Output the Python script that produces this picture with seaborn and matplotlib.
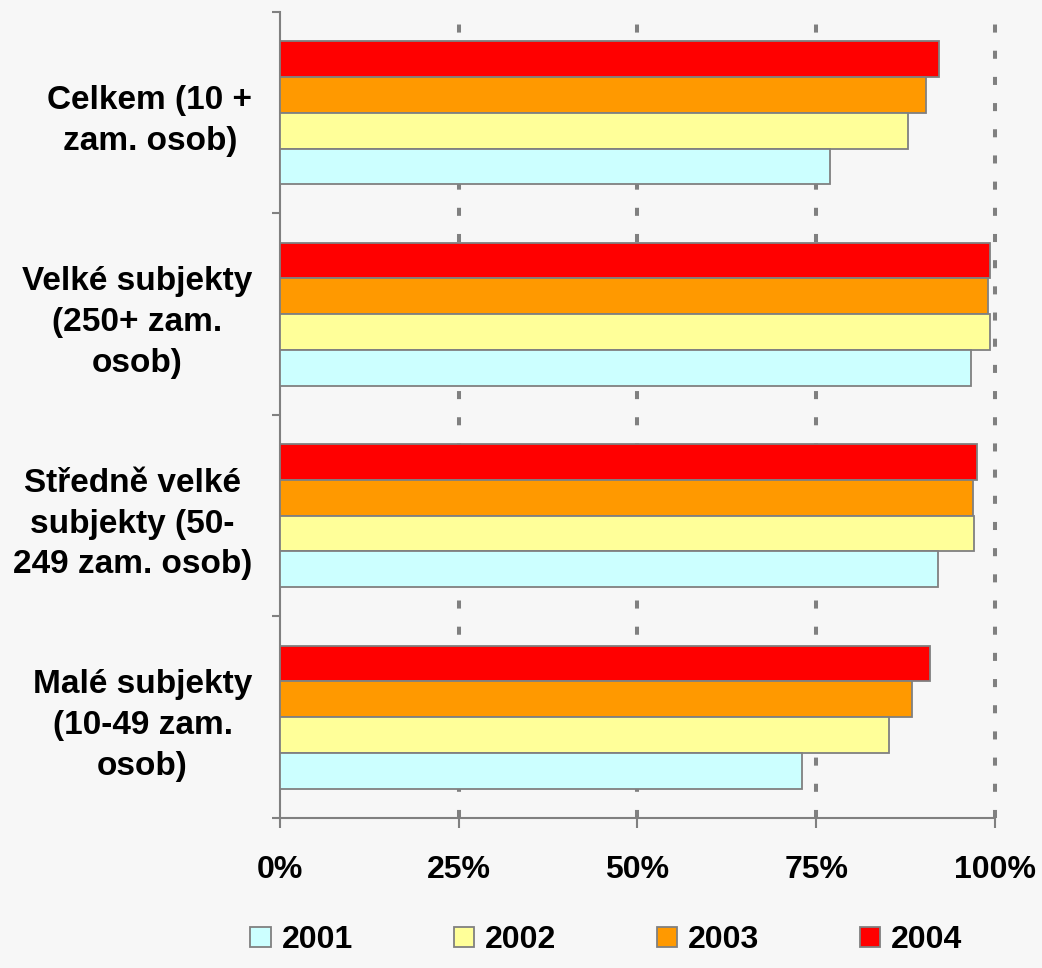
import pandas as pd
import matplotlib
matplotlib.use("Agg")
import matplotlib.pyplot as plt
from matplotlib.patches import Patch
from matplotlib.ticker import FixedLocator
import seaborn as sns

# data (share of firms, %)
categories = [
    "Celkem (10 +\nzam. osob)",
    "Velké subjekty\n(250+ zam.\nosob)",
    "Středně velké\nsubjekty (50-\n249 zam. osob)",
    "Malé subjekty\n(10-49 zam.\nosob)",
]
years = ["2001", "2002", "2003", "2004"]
v2001 = [76.9, 96.6, 92.0, 73.0]
v2002 = [87.8, 99.3, 97.1, 85.2]
v2003 = [90.3, 99.0, 96.9, 88.4]
v2004 = [92.2, 99.3, 97.5, 90.9]
x_ticks = [0, 25, 50, 75, 100]
x_labels = ["0%", "25%", "50%", "75%", "100%"]

colors = {"2001": "#CCFFFF", "2002": "#FFFF99", "2003": "#FF9900", "2004": "#FF0000"}
edge = "#808080"


def build_frame():
    rows = []
    for year, vals in zip(years, [v2001, v2002, v2003, v2004]):
        for cat, v in zip(categories, vals):
            rows.append({"category": cat, "year": year, "value": v})
    return pd.DataFrame(rows)


df = build_frame()

sns.set_style("white")
plt.rcParams["font.family"] = ["Liberation Sans", "DejaVu Sans"]
plt.rcParams["text.color"] = "black"
plt.rcParams["xtick.labelcolor"] = "black"
plt.rcParams["ytick.labelcolor"] = "black"

fig = plt.figure(figsize=(10.42, 9.68), dpi=100, facecolor="#F7F7F7")

ax = fig.add_axes([0.2687, 0.155, 0.6862, 0.8326])
ax.patch.set_alpha(0)

sns.barplot(data=df, x="value", y="category", hue="year",
            hue_order=years[::-1], order=categories, palette=colors,
            orient="h", width=0.71, saturation=1, edgecolor=edge,
            linewidth=1.3, legend=False, ax=ax, zorder=3)

ax.set_xlim(0, 100)
ax.set_ylim(3.5, -0.5)
ax.set_xlabel("")
ax.set_ylabel("")

ax.set_xticks(x_ticks)
ax.set_xticklabels(x_labels, fontsize=23, fontweight="bold", color="black")
ax.tick_params(axis="x", bottom=True, direction="out", length=7, width=1.5,
               color=edge, pad=20)

ax.set_yticks(range(len(categories)))
ax.set_yticklabels(categories, fontsize=24, fontweight="bold", color="black",
                   multialignment="center", linespacing=1.4)
ax.tick_params(axis="y", which="major", left=True, length=0, pad=20)
ax.yaxis.set_minor_locator(FixedLocator([-0.5, 0.5, 1.5, 2.5, 3.5]))
ax.tick_params(axis="y", which="minor", left=True, direction="out", length=6,
               width=1.5, color=edge)

for side in ["top", "right"]:
    ax.spines[side].set_visible(False)
for side in ["left", "bottom"]:
    ax.spines[side].set_color(edge)
    ax.spines[side].set_linewidth(1.5)

ax.set_axisbelow(True)
ax.xaxis.grid(True, color=edge, linewidth=2.9, linestyle=(0, (2, 4.5)))
ax.yaxis.grid(False)
gridlines = ax.get_xgridlines()
for gl in gridlines:
    gl.set_clip_on(False)
gridlines[0].set_visible(False)  # the 0% line sits under the axis

handles = [Patch(facecolor=colors[y], edgecolor=edge, linewidth=1.3) for y in years]
fig.legend(handles, years, loc="center", bbox_to_anchor=(0.582, 0.029), ncol=4,
           frameon=False, prop={"size": 23, "weight": "bold"},
           handlelength=0.63, handleheight=0.6, handletextpad=0.35,
           columnspacing=3.15)

fig.savefig("out.png", dpi=100, facecolor=fig.get_facecolor())
